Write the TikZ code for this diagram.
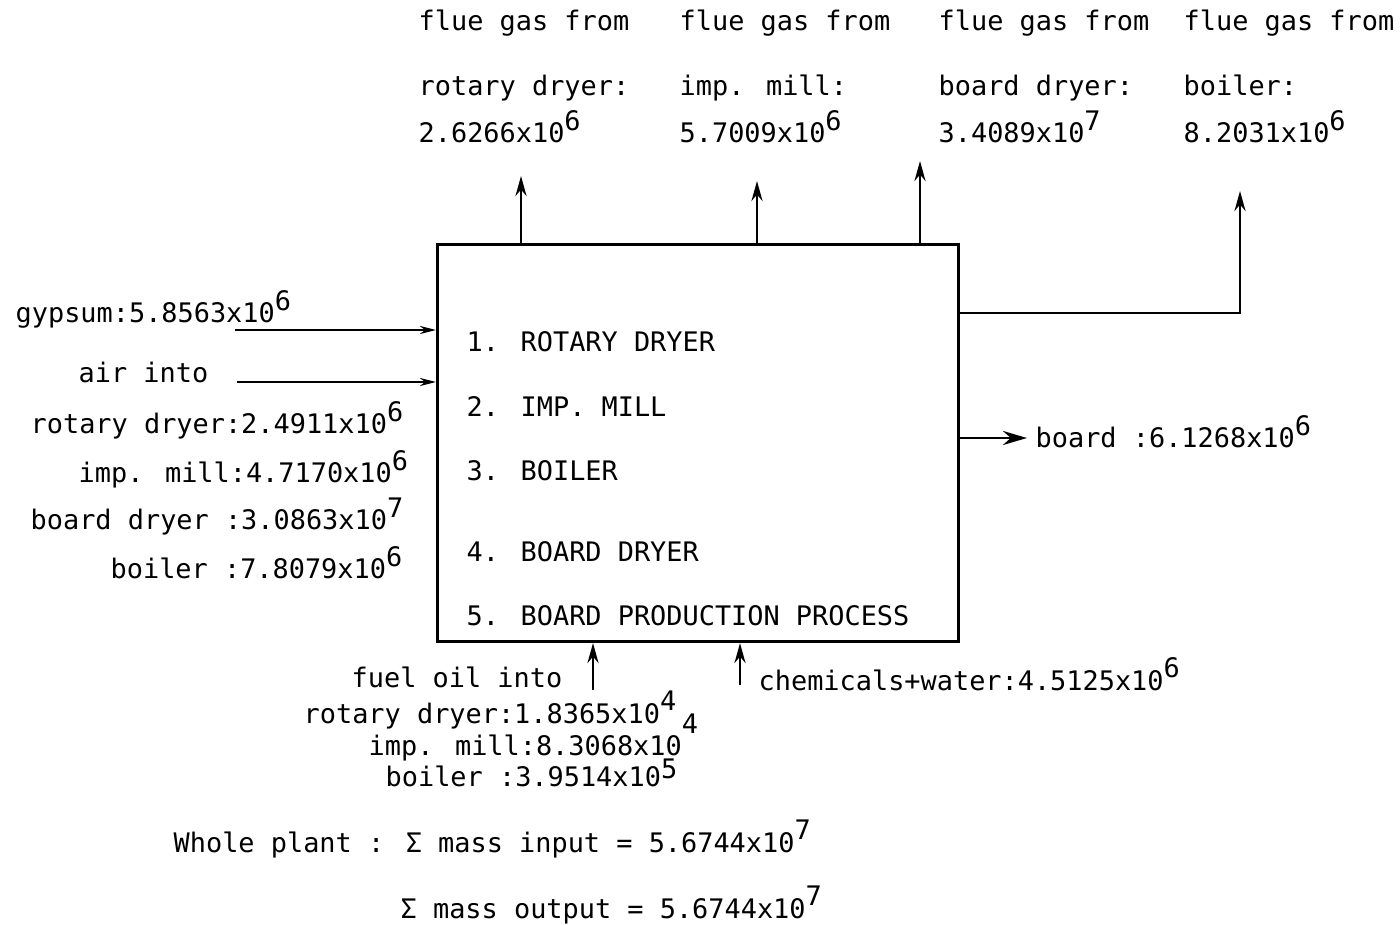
\documentclass[tikz,border=0pt]{standalone}
\usepackage{fontspec}
\setmainfont{DejaVu Sans Mono}
\usetikzlibrary{arrows.meta}
% raised exponent after "x10"
\newcommand\pw[1]{\raisebox{0.45em}{#1}}
\begin{document}
\begin{tikzpicture}[x=0.01cm,y=-0.01cm,
  lbl/.style={anchor=base west,inner sep=0pt,font=\fontsize{7.65}{9}\selectfont},
  flow/.style={line width=0.8pt,-{Stealth[length=0.2cm,width=0.11cm]}},
  feed/.style={line width=0.8pt,-{Stealth[length=0.16cm,width=0.08cm]}},
  bigflow/.style={line width=0.8pt,-{Stealth[length=0.24cm,width=0.14cm]}},
  unit/.style={draw,line width=0.8pt,anchor=north west,inner sep=0pt,
    minimum width=5.21cm,minimum height=3.97cm}]
\useasboundingbox (0,0) rectangle (1400,925);

% process block
\node[unit] (plant) at (436,243) {};
\node[lbl] (u1) at (466,352) {1. ROTARY DRYER};
\node[lbl] (u2) at (466,417) {2. IMP. MILL};
\node[lbl] (u3) at (466,481) {3. BOILER};
\node[lbl] (u4) at (466,562) {4. BOARD DRYER};
\node[lbl] (u5) at (466,626) {5. BOARD PRODUCTION PROCESS};

% flue gas outputs
\node[lbl] (f1a) at (418,31) {flue gas from};
\node[lbl] (f1b) at (418,96) {rotary dryer:};
\node[lbl] (f1c) at (418,143) {2.6266x10\pw{6}};
\node[lbl] (f2a) at (679,31) {flue gas from};
\node[lbl] (f2b) at (679,96) {imp. mill:};
\node[lbl] (f2c) at (679,143) {5.7009x10\pw{6}};
\node[lbl] (f3a) at (938,31) {flue gas from};
\node[lbl] (f3b) at (938,96) {board dryer:};
\node[lbl] (f3c) at (938,143) {3.4089x10\pw{7}};
\node[lbl] (f4a) at (1183,31) {flue gas from};
\node[lbl] (f4b) at (1183,96) {boiler:};
\node[lbl] (f4c) at (1183,143) {8.2031x10\pw{6}};

\coordinate (t1) at (521,176);
\coordinate (t2) at (757,181);
\coordinate (t3) at (920,161);
\coordinate (t4) at (1240,191);
\coordinate (bend) at (1240,313);
\draw[flow] (t1 |- plant.north) -- (t1);
\draw[flow] (t2 |- plant.north) -- (t2);
\draw[flow] (t3 |- plant.north) -- (t3);
\draw[flow] (plant.east |- bend) -- (bend) -- (t4);

% inputs on the left
\node[lbl] (gyp) at (15,323) {gypsum:5.8563x10\pw{6}};
\node[lbl] (air) at (78,383) {air into};
\node[lbl] (a1) at (30,434) {rotary dryer:2.4911x10\pw{6}};
\node[lbl] (a2) at (78,483) {imp. mill:4.7170x10\pw{6}};
\node[lbl] (a3) at (30,530) {board dryer :3.0863x10\pw{7}};
\node[lbl] (a4) at (110,579) {boiler :7.8079x10\pw{6}};
\coordinate (g0) at (235,330);
\coordinate (r0) at (237,382);
\draw[feed] (g0) -- (g0 -| plant.west);
\draw[feed] (r0) -- (r0 -| plant.west);

% product
\coordinate (p1) at (1027,438);
\node[lbl] (board) at (1035,448) {board :6.1268x10\pw{6}};
\draw[bigflow] (p1 -| plant.east) -- (p1);

% inputs from below
\node[lbl] (fo) at (351,688) {fuel oil into};
\node[lbl] (o1) at (303,723) {rotary dryer:1.8365x10\pw{4}};
\node[lbl] (o2) at (368,755) {imp. mill:8.3068x10\raisebox{0.8em}{4}};
\node[lbl] (o3) at (385,787) {boiler :3.9514x10\raisebox{0.3em}{5}};
\node[lbl] (chem) at (758,690) {chemicals+water:4.5125x10\pw{6}};
\coordinate (b1) at (593,690);
\coordinate (b2) at (740,685);
\draw[flow] (b1) -- (b1 |- plant.south);
\draw[flow] (b2) -- (b2 |- plant.south);

% overall balance
\node[lbl] (sin) at (173,852) {Whole plant : Σ mass input = 5.6744x10\pw{7}};
\node[lbl] (sout) at (400,918) {Σ mass output = 5.6744x10\pw{7}};
\end{tikzpicture}
\end{document}
